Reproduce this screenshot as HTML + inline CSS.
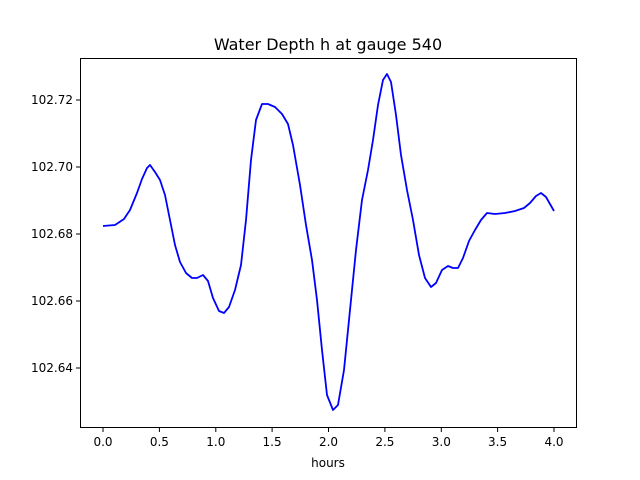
<!DOCTYPE html>
<html><head><meta charset="utf-8"><style>body{margin:0;background:#fff}svg{display:block;font-family:"DejaVu Sans","Liberation Sans",sans-serif}</style></head><body>
<svg width="640" height="480" viewBox="0 0 640 480">
<rect width="640" height="480" fill="#fff"/>
<text x="328" y="50" font-size="16" text-anchor="middle">Water Depth h at gauge 540</text>
<polyline fill="none" stroke="#0000ff" stroke-width="1.8" stroke-linejoin="round" points="103,226 115,225 124,219 130,210 137,193 142,179 147,168 150,165 155,172 160,180 165,195 170,220 175,245 180,262 186,273 192,278 197,278 203,275 208,281 213,298 219,311 224,313 229,307 235,290 241,265 246,220 251,160 256,120 262,104 268,104 275,107 282,114 288,124 293,145 300,185 306,225 312,260 317,300 322,350 327,395 333,410 338,405 344,370 350,310 356,250 362,200 368,170 373,140 378,105 383,80 387,74 391,82 396,115 401,155 407,190 413,220 419,255 425,278 431,287 436,283 442,270 448,266 453,268 458,268 463,258 469,241 475,230 481,220 487,213 495,214 505,213 515,211 524,208 530,203 536,196 541,193 546,197 550,204 554,211"/>
<rect x="80.5" y="58.5" width="496" height="369" fill="none" stroke="#000" stroke-width="1"/>
<g stroke="#000" stroke-width="1">
<line x1="103" y1="428" x2="103" y2="432"/><line x1="159.4" y1="428" x2="159.4" y2="432"/><line x1="215.8" y1="428" x2="215.8" y2="432"/><line x1="272.1" y1="428" x2="272.1" y2="432"/><line x1="328.5" y1="428" x2="328.5" y2="432"/><line x1="384.9" y1="428" x2="384.9" y2="432"/><line x1="441.3" y1="428" x2="441.3" y2="432"/><line x1="497.6" y1="428" x2="497.6" y2="432"/><line x1="554" y1="428" x2="554" y2="432"/>
<line x1="76" y1="100" x2="80" y2="100"/><line x1="76" y1="167" x2="80" y2="167"/><line x1="76" y1="234" x2="80" y2="234"/><line x1="76" y1="301" x2="80" y2="301"/><line x1="76" y1="368" x2="80" y2="368"/>
</g>
<g font-size="12" text-anchor="middle">
<text x="103" y="446">0.0</text><text x="159.4" y="446">0.5</text><text x="215.8" y="446">1.0</text><text x="272.1" y="446">1.5</text><text x="328.5" y="446">2.0</text><text x="384.9" y="446">2.5</text><text x="441.3" y="446">3.0</text><text x="497.6" y="446">3.5</text><text x="554" y="446">4.0</text>
<text x="328" y="467">hours</text>
</g>
<g font-size="12" text-anchor="end">
<text x="73" y="104">102.72</text><text x="73" y="171">102.70</text><text x="73" y="238">102.68</text><text x="73" y="305">102.66</text><text x="73" y="372">102.64</text>
</g>
</svg>
</body></html>
